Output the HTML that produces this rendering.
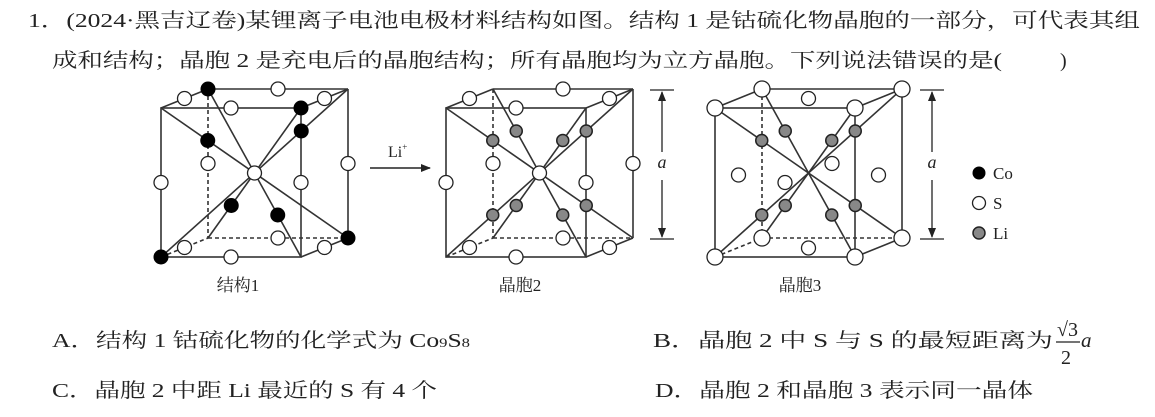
<!DOCTYPE html>
<html><head><meta charset="utf-8"><style>
html,body{margin:0;padding:0;background:#fff;}
svg{display:block;}
text{font-family:"Liberation Serif","Noto Serif CJK SC","Noto Sans CJK SC",serif;fill:#222;}
</style></head><body>
<svg width="1155" height="417" viewBox="0 0 1155 417" xmlns="http://www.w3.org/2000/svg">
<defs>
<g id="frame" stroke="#333" stroke-width="1.6" fill="none">
<rect x="0" y="108" width="140" height="149"/>
<line x1="47" y1="89" x2="187" y2="89"/>
<line x1="187" y1="89" x2="187" y2="238"/>
<line x1="0" y1="108" x2="47" y2="89"/>
<line x1="140" y1="108" x2="187" y2="89"/>
<line x1="140" y1="257" x2="187" y2="238"/>
<g stroke-dasharray="4,3">
<line x1="47" y1="89" x2="47" y2="238"/>
<line x1="47" y1="238" x2="187" y2="238"/>
<line x1="0" y1="257" x2="47" y2="238"/>
</g>
<line x1="0" y1="108" x2="187" y2="238"/>
<line x1="140" y1="108" x2="47" y2="238"/>
<line x1="0" y1="257" x2="187" y2="89"/>
<line x1="140" y1="257" x2="47" y2="89"/>
</g>
<g id="edges" fill="#fff" stroke="#222" stroke-width="1.3">
<circle cx="70" cy="108" r="7"/><circle cx="117" cy="89" r="7"/>
<circle cx="23.5" cy="98.5" r="7"/><circle cx="163.5" cy="98.5" r="7"/>
<circle cx="0" cy="182.5" r="7"/><circle cx="140" cy="182.5" r="7"/>
<circle cx="47" cy="163.5" r="7"/><circle cx="187" cy="163.5" r="7"/>
<circle cx="70" cy="257" r="7"/><circle cx="117" cy="238" r="7"/>
<circle cx="23.5" cy="247.5" r="7"/><circle cx="163.5" cy="247.5" r="7"/>
</g>
<g id="li" fill="#888" stroke="#222" stroke-width="1.5">
<circle cx="46.75" cy="140.5" r="6"/><circle cx="116.75" cy="140.5" r="6"/>
<circle cx="46.75" cy="215" r="6"/><circle cx="116.75" cy="215" r="6"/>
<circle cx="70.25" cy="131" r="6"/><circle cx="140.25" cy="131" r="6"/>
<circle cx="70.25" cy="205.5" r="6"/><circle cx="140.25" cy="205.5" r="6"/>
</g>
<marker id="ah" markerWidth="10" markerHeight="8" refX="9" refY="4" orient="auto" markerUnits="userSpaceOnUse">
<path d="M0,0 L10,4 L0,8 z" fill="#222"/></marker>
</defs>

<text x="28" y="27" font-size="20" textLength="1112" lengthAdjust="spacingAndGlyphs">1．(2024·黑吉辽卷)某锂离子电池电极材料结构如图。结构 1 是钴硫化物晶胞的一部分，可代表其组</text>
<text x="52" y="67" font-size="20" textLength="950" lengthAdjust="spacingAndGlyphs">成和结构；晶胞 2 是充电后的晶胞结构；所有晶胞均为立方晶胞。下列说法错误的是(</text>
<text x="1060" y="67" font-size="20">)</text>

<!-- cube 1 -->
<g transform="translate(161,0)">
<use href="#frame"/>
<use href="#edges"/>
<circle cx="93.5" cy="173" r="7" fill="#fff" stroke="#222" stroke-width="1.3"/>
<g fill="#000">
<circle cx="140" cy="108" r="7.5"/><circle cx="47" cy="89" r="7.5"/>
<circle cx="0" cy="257" r="7.5"/><circle cx="187" cy="238" r="7.5"/>
<circle cx="46.75" cy="140.5" r="7.5"/><circle cx="140.25" cy="131" r="7.5"/>
<circle cx="70.25" cy="205.5" r="7.5"/><circle cx="116.75" cy="215" r="7.5"/>
</g>
</g>
<text x="238" y="291" font-size="17" text-anchor="middle" fill="#444">结构1</text>

<!-- arrow -->
<line x1="370" y1="168" x2="430" y2="168" stroke="#222" stroke-width="1.5" marker-end="url(#ah)"/>
<text x="388" y="157" font-size="16">Li<tspan font-size="9" dy="-7">+</tspan></text>

<!-- cube 2 -->
<g transform="translate(446,0)">
<use href="#frame"/>
<use href="#edges"/>
<circle cx="93.5" cy="173" r="7" fill="#fff" stroke="#222" stroke-width="1.3"/>
<use href="#li"/>
</g>
<text x="520" y="291" font-size="17" text-anchor="middle" fill="#444">晶胞2</text>
<g stroke="#222" stroke-width="1.3">
<line x1="650" y1="90" x2="674" y2="90"/><line x1="650" y1="239" x2="674" y2="239"/>
<line x1="662" y1="92" x2="662" y2="152" marker-end="url(#ah)" transform="rotate(180 662 122)"/>
<line x1="662" y1="180" x2="662" y2="237" marker-end="url(#ah)"/>
</g>
<text x="662" y="168" font-size="18" font-style="italic" text-anchor="middle">a</text>

<!-- cube 3 -->
<g transform="translate(715,0)">
<use href="#frame"/>
<g fill="#fff" stroke="#222" stroke-width="1.3">
<circle cx="0" cy="108" r="8"/><circle cx="140" cy="108" r="8"/>
<circle cx="0" cy="257" r="8"/><circle cx="140" cy="257" r="8"/>
<circle cx="47" cy="89" r="8"/><circle cx="187" cy="89" r="8"/>
<circle cx="47" cy="238" r="8"/><circle cx="187" cy="238" r="8"/>
<circle cx="23.5" cy="175" r="7"/><circle cx="163.5" cy="175" r="7"/>
<circle cx="70" cy="182.5" r="7"/><circle cx="117" cy="163.5" r="7"/>
<circle cx="93.5" cy="98.5" r="7"/><circle cx="93.5" cy="248" r="7"/>
</g>
<use href="#li"/>
</g>
<text x="800" y="291" font-size="17" text-anchor="middle" fill="#444">晶胞3</text>
<g stroke="#222" stroke-width="1.3">
<line x1="920" y1="90" x2="944" y2="90"/><line x1="920" y1="239" x2="944" y2="239"/>
<line x1="932" y1="92" x2="932" y2="152" marker-end="url(#ah)" transform="rotate(180 932 122)"/>
<line x1="932" y1="180" x2="932" y2="237" marker-end="url(#ah)"/>
</g>
<text x="932" y="168" font-size="18" font-style="italic" text-anchor="middle">a</text>

<!-- legend -->
<circle cx="979" cy="173" r="6.5" fill="#000"/>
<circle cx="979" cy="203" r="6.5" fill="#fff" stroke="#222" stroke-width="1.3"/>
<circle cx="979" cy="233" r="6" fill="#888" stroke="#222" stroke-width="1.5"/>
<text x="993" y="179" font-size="17">Co</text>
<text x="993" y="209" font-size="17">S</text>
<text x="993" y="239" font-size="17">Li</text>

<!-- options -->
<text x="52" y="347" font-size="20" textLength="418" lengthAdjust="spacingAndGlyphs">A．结构 1 钴硫化物的化学式为 Co<tspan font-size="13">9</tspan>S<tspan font-size="13">8</tspan></text>
<text x="653" y="347" font-size="20" textLength="400" lengthAdjust="spacingAndGlyphs">B．晶胞 2 中 S 与 S 的最短距离为</text>
<text x="1057" y="336" font-size="20">√3</text>
<line x1="1056" y1="342" x2="1080" y2="342" stroke="#222" stroke-width="1.2"/>
<text x="1061" y="364" font-size="20">2</text>
<text x="1081" y="347" font-size="21" font-style="italic">a</text>
<text x="52" y="397" font-size="20" textLength="385" lengthAdjust="spacingAndGlyphs">C．晶胞 2 中距 Li 最近的 S 有 4 个</text>
<text x="655" y="397" font-size="20" textLength="378" lengthAdjust="spacingAndGlyphs">D．晶胞 2 和晶胞 3 表示同一晶体</text>
</svg>
</body></html>
